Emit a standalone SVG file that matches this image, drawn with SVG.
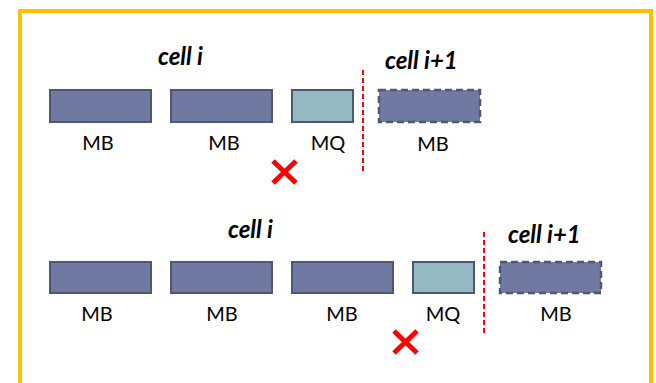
<svg xmlns="http://www.w3.org/2000/svg" width="656" height="383" viewBox="0 0 656 383">
  <style>
    .frame { fill: #ffffff; stroke: #FFC000; stroke-width: 4; }
    .mb { fill: #6f79a1; stroke: #4f5775; stroke-width: 2; }
    .mq { fill: #95b9c1; stroke: #4f5775; stroke-width: 2; }
    .next { fill: #6f79a1; stroke: #4f5775; stroke-width: 2.5; stroke-dasharray: 7 4; }
    .lbl { font-family: Lato, "Liberation Sans", sans-serif; font-size: 20px; fill: #000; text-anchor: middle; }
    .cell { font-family: Lato, "Liberation Sans", sans-serif; font-size: 24px; font-style: italic; font-weight: bold; fill: #000; }
    .split { stroke: #ff0000; stroke-width: 2; stroke-dasharray: 5 3; fill: none; }
    .cross { stroke: #ff0000; stroke-width: 5; fill: none; }
  </style>
  <rect x="0" y="0" width="656" height="383" fill="#ffffff"/>
  <rect class="frame" x="20" y="11" width="631" height="400"/>

  <!-- upper row: cell i ends after MQ -->
  <text class="cell" x="158" y="65">cell i</text>
  <text class="cell" x="385" y="69">cell i+1</text>
  <g id="r1-mb1"><rect class="mb" x="50" y="90" width="101" height="32"/><text class="lbl" x="98" y="150">MB</text></g>
  <g id="r1-mb2"><rect class="mb" x="171" y="90" width="101" height="32"/><text class="lbl" x="224" y="150">MB</text></g>
  <g id="r1-mq"><rect class="mq" x="292" y="90" width="61" height="32"/><text class="lbl" x="328" y="150">MQ</text></g>
  <g id="r1-next"><rect class="next" x="379" y="90" width="101" height="32"/><text class="lbl" x="433" y="151">MB</text></g>

  <!-- lower row: cell i ends after MQ -->
  <text class="cell" x="228" y="238">cell i</text>
  <text class="cell" x="508" y="243">cell i+1</text>
  <g id="r2-mb1"><rect class="mb" x="50" y="262" width="101" height="31"/><text class="lbl" x="97" y="321">MB</text></g>
  <g id="r2-mb2"><rect class="mb" x="171" y="262" width="101" height="31"/><text class="lbl" x="222" y="321">MB</text></g>
  <g id="r2-mb3"><rect class="mb" x="292" y="262" width="101" height="31"/><text class="lbl" x="342" y="321">MB</text></g>
  <g id="r2-mq"><rect class="mq" x="413" y="262" width="61" height="31"/><text class="lbl" x="443" y="321">MQ</text></g>
  <g id="r2-next"><rect class="next" x="500" y="262" width="101" height="31"/><text class="lbl" x="556" y="321">MB</text></g>

  <g id="connectors">
    <line class="split" x1="363" y1="70" x2="363" y2="172"/>
    <line class="split" x1="484" y1="232" x2="484" y2="333"/>
    <path class="cross" d="M273 161 L296 183 M296 161 L273 183"/>
    <path class="cross" d="M394 331 L417 353 M417 331 L394 353"/>
  </g>
</svg>
